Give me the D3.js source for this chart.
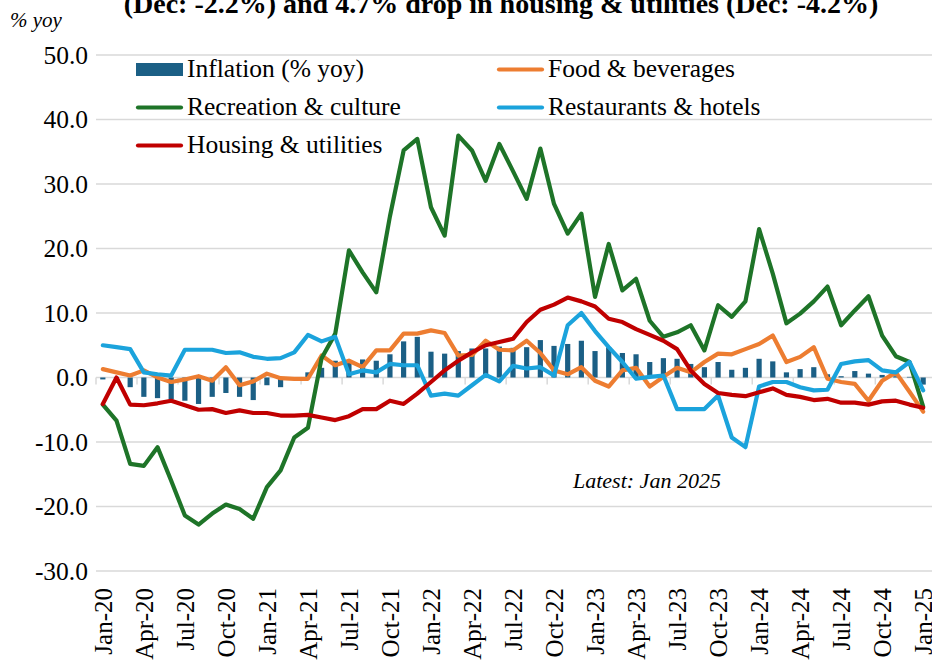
<!DOCTYPE html>
<html>
<head>
<meta charset="utf-8">
<script src="https://cdn.jsdelivr.net/npm/d3@7"></script>
<style>
  html, body { margin: 0; padding: 0; background: #fff; }
  svg { display: block; }
</style>
</head>
<body>
<svg id="chart" width="932" height="663"></svg>
<script>
// ---------- DATA ----------
const months = [
  "Jan-20","Feb-20","Mar-20","Apr-20","May-20","Jun-20","Jul-20","Aug-20","Sep-20","Oct-20","Nov-20","Dec-20",
  "Jan-21","Feb-21","Mar-21","Apr-21","May-21","Jun-21","Jul-21","Aug-21","Sep-21","Oct-21","Nov-21","Dec-21",
  "Jan-22","Feb-22","Mar-22","Apr-22","May-22","Jun-22","Jul-22","Aug-22","Sep-22","Oct-22","Nov-22","Dec-22",
  "Jan-23","Feb-23","Mar-23","Apr-23","May-23","Jun-23","Jul-23","Aug-23","Sep-23","Oct-23","Nov-23","Dec-23",
  "Jan-24","Feb-24","Mar-24","Apr-24","May-24","Jun-24","Jul-24","Aug-24","Sep-24","Oct-24","Nov-24","Dec-24",
  "Jan-25"
];
const tickLabels = ["Jan-20","Apr-20","Jul-20","Oct-20","Jan-21","Apr-21","Jul-21","Oct-21","Jan-22","Apr-22",
  "Jul-22","Oct-22","Jan-23","Apr-23","Jul-23","Oct-23","Jan-24","Apr-24","Jul-24","Oct-24","Jan-25"];
const yTicks = [-30, -20, -10, 0, 10, 20, 30, 40, 50];

const inflation = [
  -0.3,-0.1,-1.5,-3.0,-3.2,-3.4,-3.6,-4.1,-3.0,-2.4,-3.0,-3.5,
  -1.2,-1.5,0.0,0.8,1.5,2.6,2.7,2.8,2.6,3.6,5.6,6.3,
  4.0,3.7,4.1,4.5,4.5,4.8,4.6,4.7,5.8,4.9,5.2,5.7,
  4.1,4.7,3.8,3.6,2.4,3.0,2.9,2.1,1.6,2.4,1.2,1.5,
  2.9,2.5,0.8,1.3,1.6,0.5,0.2,1.0,0.6,0.4,0.2,0.1,
  -1.1
];
const food = [
  1.3,0.8,0.3,1.1,0.0,-0.7,-0.3,0.2,-0.5,1.6,-1.2,-0.6,
  0.6,-0.1,-0.2,-0.2,3.4,1.9,2.6,1.6,4.2,4.2,6.8,6.8,
  7.3,6.9,3.4,3.5,5.7,4.3,4.2,5.7,3.8,1.1,0.5,1.6,
  -0.5,-1.4,1.1,1.5,-1.4,0.1,1.5,0.8,2.4,3.7,3.6,4.4,
  5.2,6.5,2.4,3.2,4.7,-0.2,-0.7,-1.0,-3.6,-0.5,0.8,-2.2,
  -5.3
];
const recreation = [
  -4.2,-6.7,-13.4,-13.7,-10.8,-16.0,-21.4,-22.8,-21.1,-19.7,-20.4,-21.9,
  -17.0,-14.4,-9.3,-7.8,3.0,6.8,19.7,16.3,13.2,25.0,35.2,37.0,
  26.4,22.0,37.5,35.2,30.5,36.2,32.0,27.7,35.5,26.9,22.3,25.4,
  12.5,20.7,13.5,15.3,8.8,6.3,7.0,8.1,4.2,11.2,9.4,11.8,
  23.0,16.1,8.4,9.9,11.8,14.1,8.1,10.4,12.6,6.5,3.3,2.4,
  -4.5
];
const restaurants = [
  5.0,4.7,4.4,0.8,0.5,0.3,4.3,4.3,4.3,3.8,3.9,3.2,
  2.9,3.0,3.9,6.6,5.6,6.3,0.5,1.1,0.8,2.1,1.9,1.9,
  -2.8,-2.5,-2.8,-1.2,0.4,-0.6,1.8,1.4,1.6,0.3,8.1,10.0,
  7.2,4.7,2.4,-0.2,0.1,0.3,-4.9,-4.9,-4.9,-2.8,-9.3,-10.8,
  -1.4,-0.7,-0.7,-1.5,-2.0,-1.9,2.1,2.5,2.7,1.1,0.8,2.4,
  -2.0
];
const housing = [
  -4.1,0.0,-4.2,-4.3,-4.0,-3.6,-4.3,-5.0,-4.9,-5.5,-5.1,-5.5,
  -5.5,-5.9,-5.9,-5.8,-6.2,-6.6,-6.0,-4.9,-4.9,-3.6,-4.1,-2.5,
  -0.7,1.1,2.6,3.9,5.0,5.5,6.0,8.6,10.5,11.3,12.4,11.8,
  11.0,9.1,8.6,7.5,6.6,5.7,4.4,1.1,-1.0,-2.4,-2.7,-2.9,
  -2.3,-1.7,-2.7,-3.0,-3.5,-3.3,-3.9,-3.9,-4.2,-3.7,-3.6,-4.2,
  -4.7
];

const seriesNames = ["Inflation (% yoy)","Food & beverages","Recreation & culture","Restaurants & hotels","Housing & utilities"];
const seriesColors = ["#1B5F85","#ED7D31","#1E7428","#1BA3DC","#C00000"];

const titleText = "(Dec: -2.2%) and 4.7% drop in housing & utilities (Dec: -4.2%)";
const yUnit = "% yoy";
const noteText = "Latest: Jan 2025";

// ---------- CHART ----------
(function () {
const svg = d3.select("#chart");
const W = 932, H = 663;
const plotL = 96, plotR = 930, plotT = 55, plotB = 571;
const serif = "'Liberation Serif','Times New Roman',Times,serif";

svg.append("rect").attr("width", W).attr("height", H).attr("fill", "#fff");

const x = d3.scaleBand().domain(months).range([plotL, plotR]).padding(0);
const y = d3.scaleLinear().domain([-30, 50]).range([plotB, plotT]);
const bw = x.bandwidth();
const fmt = d => d3.format(".1f")(d).replace("\u2212", "-");

// title (cut at top like the reference)
svg.append("text").attr("x", 501).attr("y", 13)
  .attr("text-anchor", "middle").attr("font-family", serif)
  .attr("font-weight", "bold").attr("font-size", 28).attr("fill", "#000")
  .text(titleText);

svg.append("text").attr("x", 10).attr("y", 27)
  .attr("font-family", serif).attr("font-style", "italic")
  .attr("font-size", 21).attr("fill", "#000").text(yUnit);

// gridlines
svg.append("g").selectAll("line").data(yTicks).join("line")
  .attr("x1", plotL).attr("x2", W)
  .attr("y1", d => y(d)).attr("y2", d => y(d))
  .attr("stroke", "#D9D9D9").attr("stroke-width", 1.5);

// y tick labels
svg.append("g").selectAll("text").data(yTicks).join("text")
  .attr("x", 88).attr("y", d => y(d)).attr("dy", "0.35em")
  .attr("text-anchor", "end").attr("font-family", serif)
  .attr("font-size", 25.5).attr("fill", "#000")
  .text(fmt);

// category tick marks on the zero line (every 3 months at boundaries)
const tickIdx = d3.range(0, months.length + 1, 3);
svg.append("g").selectAll("line").data(tickIdx).join("line")
  .attr("x1", i => plotL + i * bw).attr("x2", i => plotL + i * bw)
  .attr("y1", y(0)).attr("y2", y(0) + 7)
  .attr("stroke", "#D9D9D9").attr("stroke-width", 1.5);

// bars
const barW = bw * 0.38;
svg.append("g").selectAll("rect").data(inflation).join("rect")
  .attr("x", (d, i) => x(months[i]) + (bw - barW) / 2)
  .attr("width", barW)
  .attr("y", d => Math.min(y(d), y(0)))
  .attr("height", d => Math.abs(y(d) - y(0)))
  .attr("fill", seriesColors[0]);

// lines
const lineGen = d3.line()
  .x((d, i) => x(months[i]) + bw / 2)
  .y(d => y(d));
[[food, 1], [recreation, 2], [restaurants, 3], [housing, 4]].forEach(([data, k]) => {
  svg.append("path").datum(data)
    .attr("d", lineGen)
    .attr("fill", "none")
    .attr("stroke", seriesColors[k])
    .attr("stroke-width", 4.2)
    .attr("stroke-linejoin", "round")
    .attr("stroke-linecap", "round");
});

// x labels
svg.append("g").selectAll("text").data(tickLabels).join("text")
  .attr("transform", d => `translate(${x(d) + bw / 2},588) rotate(-90)`)
  .attr("dy", "0.35em")
  .attr("text-anchor", "end").attr("font-family", serif)
  .attr("font-size", 25).attr("fill", "#000")
  .text(d => d);

// note
svg.append("text").attr("x", 573).attr("y", 488)
  .attr("font-family", serif).attr("font-style", "italic")
  .attr("font-size", 22).attr("fill", "#000").text(noteText);

// legend
const legendItems = [
  { k: 0, x: 136, y: 77, type: "bar" },
  { k: 1, x: 497, y: 77, type: "line" },
  { k: 2, x: 136, y: 115, type: "line" },
  { k: 3, x: 497, y: 115, type: "line" },
  { k: 4, x: 136, y: 153, type: "line" }
];
const lg = svg.append("g");
legendItems.forEach(it => {
  if (it.type === "bar") {
    lg.append("rect").attr("x", it.x).attr("y", it.y - 14).attr("width", 47).attr("height", 13)
      .attr("fill", seriesColors[it.k]);
  } else {
    lg.append("line").attr("x1", it.x + 2).attr("x2", it.x + 45)
      .attr("y1", it.y - 7.5).attr("y2", it.y - 7.5)
      .attr("stroke", seriesColors[it.k]).attr("stroke-width", 4.2)
      .attr("stroke-linecap", "round");
  }
  lg.append("text").attr("x", it.x + 51).attr("y", it.y)
    .attr("font-family", serif).attr("font-size", 25.5).attr("fill", "#000")
    .text(seriesNames[it.k]);
});
})();
</script>
</body>
</html>
